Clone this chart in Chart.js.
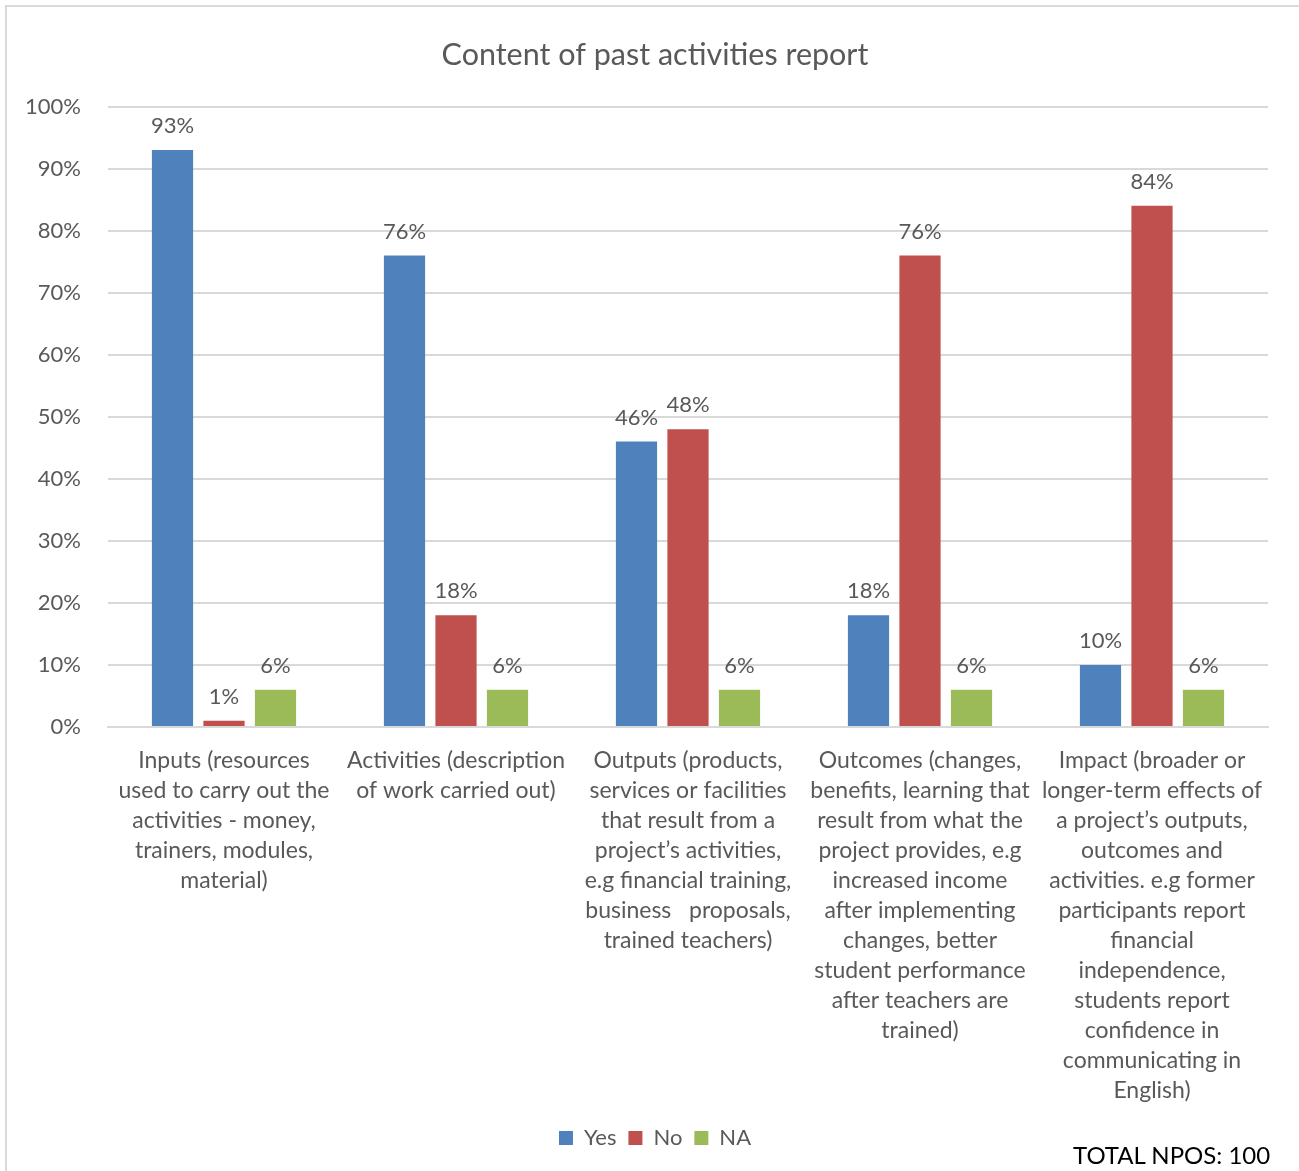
<!DOCTYPE html>
<html>
<head>
<meta charset="utf-8">
<title>Content of past activities report</title>
<script src="https://cdn.jsdelivr.net/npm/chart.js@4/dist/chart.umd.min.js"></script>
<style>
  html, body { margin: 0; padding: 0; background: #fff; overflow: hidden; }
  #frame {
    position: absolute; left: 5px; top: 5px; width: 1400px; height: 1300px;
    border: 2px solid #d9d9d9; box-sizing: border-box;
  }
  #wrap { position: absolute; left: 0; top: 0; width: 1299px; height: 1171px; }
  #total {
    position: absolute; left: 1073px; top: 1140px;
    font-family: Lato, "Liberation Sans", sans-serif; font-size: 24px; color: #000;
  }
</style>
</head>
<body>
<div id="frame"></div>
<div id="wrap"><canvas id="chart"></canvas></div>
<div id="total">TOTAL NPOS: 100</div>
<script>
const categories = [
  ["Inputs (resources", "used to carry out the", "activities - money,", "trainers, modules,", "material)"],
  ["Activities (description", "of work carried out)"],
  ["Outputs (products,", "services or facilities", "that result from a", "project’s activities,", "e.g financial training,", "business   proposals,", "trained teachers)"],
  ["Outcomes (changes,", "benefits, learning that", "result from what the", "project provides, e.g", "increased income", "after implementing", "changes, better", "student performance", "after teachers are", "trained)"],
  ["Impact (broader or", "longer-term effects of", "a project’s outputs,", "outcomes and", "activities. e.g former", "participants report", "financial", "independence,", "students report", "confidence in", "communicating in", "English)"]
];
const yesValues = [93, 76, 46, 18, 10];
const noValues = [1, 18, 48, 76, 84];
const naValues = [6, 6, 6, 6, 6];
const yTicks = [0, 10, 20, 30, 40, 50, 60, 70, 80, 90, 100];

const FONT = 'Lato, "Liberation Sans", sans-serif';
const GREY = '#595959';

// value labels above each bar
const barLabels = {
  id: 'barLabels',
  afterDatasetsDraw(chart) {
    const ctx = chart.ctx;
    ctx.save();
    ctx.font = '22px ' + FONT;
    ctx.fillStyle = GREY;
    ctx.textAlign = 'center';
    ctx.textBaseline = 'middle';
    chart.data.datasets.forEach((ds, i) => {
      chart.getDatasetMeta(i).data.forEach((bar, j) => {
        ctx.fillText(ds.data[j] + '%', bar.x, bar.y - 24);
      });
    });
    ctx.restore();
  }
};

new Chart(document.getElementById('chart'), {
  type: 'bar',
  data: {
    labels: categories,
    datasets: [
      { label: 'Yes', data: yesValues, backgroundColor: '#4F81BD' },
      { label: 'No', data: noValues, backgroundColor: '#C0504D' },
      { label: 'NA', data: naValues, backgroundColor: '#9BBB59' }
    ]
  },
  options: {
    responsive: true,
    maintainAspectRatio: false,
    animation: false,
    datasets: {
      bar: { categoryPercentage: 0.666, barPercentage: 0.8 }
    },
    layout: { padding: { left: 20, right: 9, top: 0, bottom: 12 } },
    plugins: {
      title: {
        display: true,
        text: 'Content of past activities report',
        color: GREY,
        font: { family: FONT, size: 30.5, weight: 'normal' },
        padding: { top: 37, bottom: 33 }
      },
      legend: {
        position: 'bottom',
        labels: {
          color: GREY,
          font: { family: FONT, size: 22 },
          boxWidth: 14,
          boxHeight: 14,
          padding: 12
        }
      },
      tooltip: { enabled: false }
    },
    scales: {
      x: {
        grid: { display: false, drawTicks: false },
        border: { color: '#d9d9d9', width: 2 },
        ticks: {
          color: GREY,
          font: { family: FONT, size: 23, lineHeight: '30px' },
          padding: 19,
          maxRotation: 0,
          autoSkip: false
        },
        afterFit(scale) { scale.height = 388; }
      },
      y: {
        min: 0,
        max: 100,
        afterBuildTicks(scale) { scale.ticks = yTicks.map(v => ({ value: v })); },
        grid: { color: '#d9d9d9', lineWidth: 2, drawTicks: false },
        border: { display: false },
        ticks: {
          color: GREY,
          font: { family: FONT, size: 22 },
          padding: 27,
          callback: v => v + '%'
        },
        afterFit(scale) { scale.width = 88; }
      },
      // empty margin on the right so title and legend sit centred on the frame
      yRight: {
        position: 'right',
        grid: { display: false, drawTicks: false },
        border: { display: false },
        ticks: { display: false },
        afterFit(scale) { scale.width = 22; }
      }
    }
  },
  plugins: [barLabels]
});
</script>
</body>
</html>
